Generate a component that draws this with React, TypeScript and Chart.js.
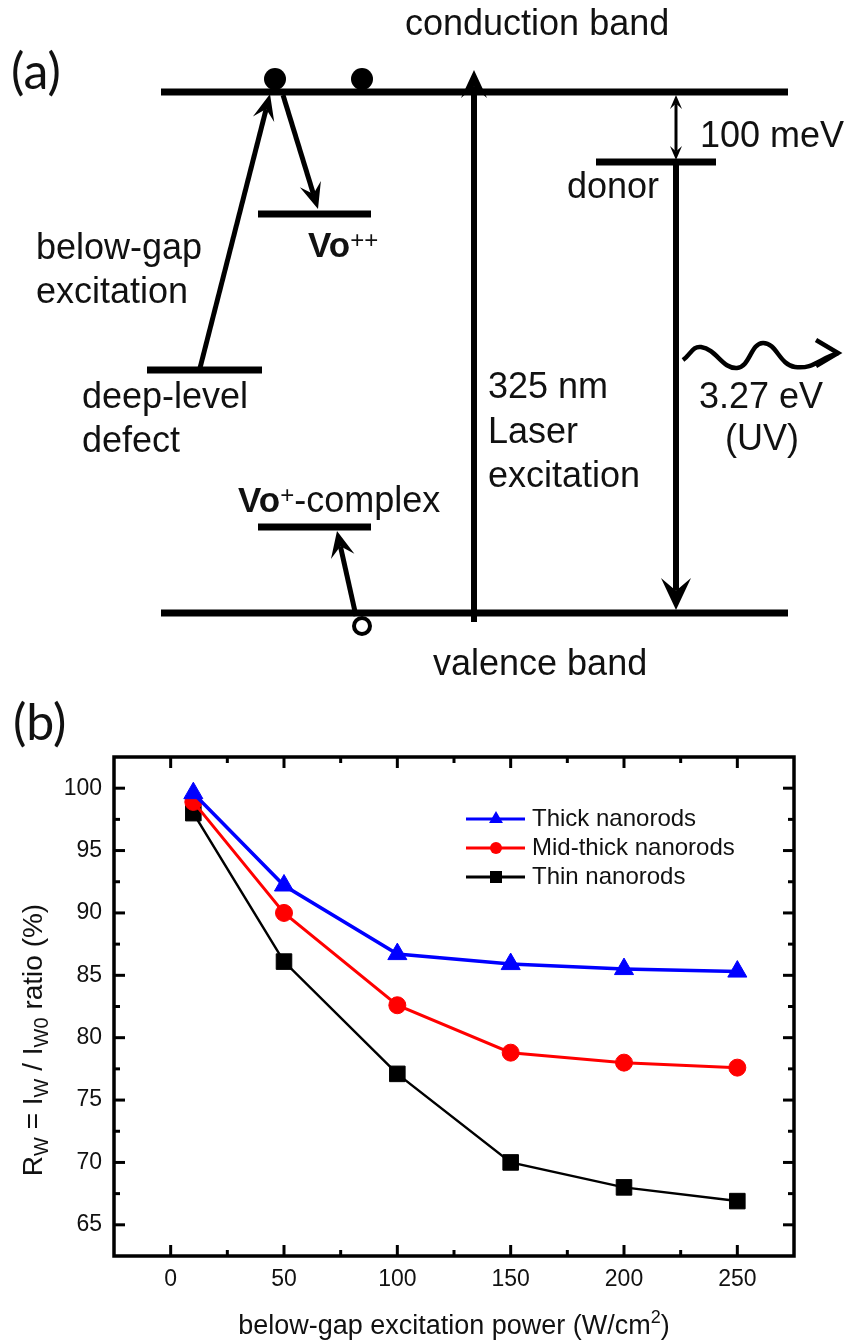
import React, { useEffect, useRef } from 'react';
import { Chart, registerables } from 'chart.js';

Chart.register(...registerables);

const FONT = '"Liberation Sans", Arial, Helvetica, sans-serif';
const PANEL_FONT = 'Lato, "Open Sans", sans-serif';

// ---------- (b) data ----------
const powers = [10, 50, 100, 150, 200, 250];
const thickValues = [99.6, 92.2, 86.7, 85.9, 85.5, 85.3];
const midThickValues = [98.9, 90.0, 82.6, 78.8, 78.0, 77.6];
const thinValues = [98.0, 86.1, 77.1, 70.0, 68.0, 66.9];
const seriesNames = ['Thick nanorods', 'Mid-thick nanorods', 'Thin nanorods'];
const xTickValues = [0, 50, 100, 150, 200, 250];
const xMinorTickValues = [25, 75, 125, 175, 225];
const yTickValues = [65, 70, 75, 80, 85, 90, 95, 100];
const yMinorTickValues = [67.5, 72.5, 77.5, 82.5, 87.5, 92.5, 97.5];

// ---------- (a) diagram geometry (diagram units) ----------
const levelNames = ['conduction band', 'valence band', 'Vo++', 'deep-level defect', 'Vo+-complex', 'donor'];
const levelY = [92, 613, 214, 370, 527, 162];
const levelX0 = [161, 161, 258, 147, 258, 596];
const levelX1 = [788, 788, 371, 262, 371, 716];

const electronX = [275, 362];
const electronY = [79, 79];
const holeX = [362];
const holeY = [626];

const arrowFromX = [200, 283, 356, 474, 676, 676, 676];
const arrowFromY = [368, 95, 616, 622, 163, 128, 128];
const arrowToX = [270, 318, 337, 474, 676, 676, 676];
const arrowToY = [94, 209, 531, 70, 610, 95, 160];
const arrowWidth = [5, 5, 5, 6, 6, 3, 3];
const arrowHeadLen = [26, 26, 26, 28, 32, 14, 14];
const arrowHeadHalf = [11, 11, 12, 13, 15, 6, 6];

const waveX = [683, 701, 737, 763, 795, 838];
const waveY = [360, 347, 368, 343, 367, 353];

const diagramTexts = ['conduction band', 'valence band', 'below-gap', 'excitation', 'deep-level', 'defect',
  '325 nm', 'Laser', 'excitation', 'donor', '100 meV', '3.27 eV', '(UV)'];
const diagramTextX = [405, 433, 36, 36, 82, 82, 488, 488, 488, 567, 700, 699, 725];
const diagramTextY = [35, 675, 259, 303, 408, 452, 398, 443, 487, 198, 147, 408, 450];

type Part = { t: string; f: string; dy: number };
function drawRich(ctx: CanvasRenderingContext2D, parts: Part[], x: number, y: number, align: 'left' | 'center') {
  let total = 0;
  const widths = parts.map(p => { ctx.font = p.f; const w = ctx.measureText(p.t).width; total += w; return w; });
  let cx = align === 'center' ? x - total / 2 : x;
  ctx.textAlign = 'left';
  ctx.textBaseline = 'alphabetic';
  parts.forEach((p, i) => { ctx.font = p.f; ctx.fillText(p.t, cx, y + p.dy); cx += widths[i]; });
}

function drawArrow(ctx: CanvasRenderingContext2D, x0: number, y0: number, x1: number, y1: number, w: number, len: number, hw: number) {
  const ang = Math.atan2(y1 - y0, x1 - x0);
  const c = Math.cos(ang), s = Math.sin(ang);
  const notch = len * 0.6;
  ctx.lineWidth = w;
  ctx.lineCap = 'butt';
  ctx.beginPath();
  ctx.moveTo(x0, y0);
  ctx.lineTo(x1 - c * notch, y1 - s * notch);
  ctx.stroke();
  const bx = x1 - c * len, by = y1 - s * len;
  ctx.beginPath();
  ctx.moveTo(x1, y1);
  ctx.lineTo(bx - s * hw, by + c * hw);
  ctx.lineTo(x1 - c * notch, y1 - s * notch);
  ctx.lineTo(bx + s * hw, by - c * hw);
  ctx.closePath();
  ctx.fill();
}

const diagramPlugin = {
  id: 'diagramPlugin',
  afterDatasetsDraw(chart: any) {
    const ctx: CanvasRenderingContext2D = chart.ctx;
    const xs = chart.scales.x, ys = chart.scales.y;
    const X = (v: number) => xs.getPixelForValue(v);
    const Y = (v: number) => ys.getPixelForValue(v);
    ctx.save();
    ctx.fillStyle = '#000';
    ctx.strokeStyle = '#000';
    for (let i = 0; i < arrowFromX.length; i++) {
      drawArrow(ctx, X(arrowFromX[i]), Y(arrowFromY[i]), X(arrowToX[i]), Y(arrowToY[i]),
        arrowWidth[i], arrowHeadLen[i], arrowHeadHalf[i]);
    }
    // open head of the wavy photon arrow
    const n = waveX.length - 1;
    const tx = X(waveX[n]), ty = Y(waveY[n]);
    ctx.lineWidth = 4.5;
    ctx.lineJoin = 'miter';
    ctx.beginPath();
    ctx.moveTo(tx - 22, ty - 13);
    ctx.lineTo(tx, ty);
    ctx.lineTo(tx - 22, ty + 13);
    ctx.stroke();

    ctx.fillStyle = '#111';
    ctx.font = `36px ${FONT}`;
    ctx.textAlign = 'left';
    ctx.textBaseline = 'alphabetic';
    diagramTexts.forEach((t, i) => ctx.fillText(t, X(diagramTextX[i]), Y(diagramTextY[i])));
    drawRich(ctx, [
      { t: 'Vo', f: `bold 35px ${FONT}`, dy: 0 },
      { t: '++', f: `24px ${FONT}`, dy: -9 },
    ], X(308), Y(257), 'left');
    drawRich(ctx, [
      { t: 'Vo', f: `bold 35px ${FONT}`, dy: 0 },
      { t: '+', f: `24px ${FONT}`, dy: -9 },
      { t: '-complex', f: `36px ${FONT}`, dy: 0 },
    ], X(238), Y(512), 'left');
    ctx.font = `50px ${PANEL_FONT}`;
    ctx.fillText('(a)', X(11), Y(89));
    ctx.restore();
  },
};

const chartBPlugin = {
  id: 'chartBPlugin',
  afterDraw(chart: any) {
    const ctx: CanvasRenderingContext2D = chart.ctx;
    const a = chart.chartArea;
    const xs = chart.scales.x, ys = chart.scales.y;
    ctx.save();
    ctx.strokeStyle = '#000';
    ctx.lineWidth = 3.5;
    ctx.strokeRect(a.left, a.top, a.right - a.left, a.bottom - a.top);
    ctx.lineWidth = 3;
    const seg = (x1: number, y1: number, x2: number, y2: number) => {
      ctx.beginPath(); ctx.moveTo(x1, y1); ctx.lineTo(x2, y2); ctx.stroke();
    };
    const xt = (vals: number[], len: number) => vals.forEach(v => {
      const p = xs.getPixelForValue(v);
      seg(p, a.bottom, p, a.bottom - len);
      seg(p, a.top, p, a.top + len);
    });
    const yt = (vals: number[], len: number) => vals.forEach(v => {
      const p = ys.getPixelForValue(v);
      seg(a.left, p, a.left + len, p);
      seg(a.right, p, a.right - len, p);
    });
    xt(xTickValues, 11); xt(xMinorTickValues, 6);
    yt(yTickValues, 11); yt(yMinorTickValues, 6);

    // legend
    const rows = [129, 158, 187];
    chart.data.datasets.forEach((ds: any, i: number) => {
      const y = rows[i];
      ctx.strokeStyle = ds.borderColor;
      ctx.fillStyle = ds.borderColor;
      ctx.lineWidth = 3;
      seg(466, y, 525, y);
      const mx = 496;
      if (ds.pointStyle === 'triangle') {
        const r = 8;
        ctx.beginPath();
        ctx.moveTo(mx, y - r);
        ctx.lineTo(mx + r * 0.866, y + r * 0.5);
        ctx.lineTo(mx - r * 0.866, y + r * 0.5);
        ctx.closePath(); ctx.fill();
      } else if (ds.pointStyle === 'circle') {
        ctx.beginPath(); ctx.arc(mx, y, 6, 0, Math.PI * 2); ctx.fill();
      } else {
        ctx.fillRect(mx - 6, y - 6, 12, 12);
      }
      ctx.fillStyle = '#111';
      ctx.font = `24px ${FONT}`;
      ctx.textAlign = 'left';
      ctx.textBaseline = 'middle';
      ctx.fillText(ds.label, 532, y);
    });

    // x title
    ctx.fillStyle = '#111';
    drawRich(ctx, [
      { t: 'below-gap excitation power (W/cm', f: `27px ${FONT}`, dy: 0 },
      { t: '2', f: `18px ${FONT}`, dy: -11 },
      { t: ')', f: `27px ${FONT}`, dy: 0 },
    ], (a.left + a.right) / 2, 644, 'center');

    // y title
    ctx.save();
    ctx.translate(42, 350);
    ctx.rotate(-Math.PI / 2);
    drawRich(ctx, [
      { t: 'R', f: `28px ${FONT}`, dy: 0 },
      { t: 'W', f: `20px ${FONT}`, dy: 6 },
      { t: ' = I', f: `28px ${FONT}`, dy: 0 },
      { t: 'W', f: `20px ${FONT}`, dy: 6 },
      { t: ' / I', f: `28px ${FONT}`, dy: 0 },
      { t: 'W0', f: `20px ${FONT}`, dy: 6 },
      { t: ' ratio (%)', f: `28px ${FONT}`, dy: 0 },
    ], 0, 0, 'center');
    ctx.restore();

    ctx.font = `50px ${PANEL_FONT}`;
    ctx.textAlign = 'left';
    ctx.textBaseline = 'alphabetic';
    ctx.fillStyle = '#111';
    ctx.fillText('(b)', 13, 50);
    ctx.restore();
  },
};

function DiagramChart() {
  const ref = useRef<HTMLCanvasElement>(null);
  useEffect(() => {
    if (!ref.current) return;
    const levelSets = levelNames.map((name, i) => ({
      label: name,
      data: [{ x: levelX0[i], y: levelY[i] }, { x: levelX1[i], y: levelY[i] }],
      borderColor: '#000',
      borderWidth: 7,
      borderCapStyle: 'butt',
      pointRadius: 0,
      clip: false,
      order: 3,
    }));
    const chart = new Chart(ref.current, {
      type: 'line',
      data: {
        datasets: [
          ...levelSets,
          {
            label: 'photon',
            data: waveX.map((x, i) => ({ x, y: waveY[i] })),
            borderColor: '#000',
            borderWidth: 4.5,
            tension: 0.45,
            pointRadius: 0,
            clip: false,
            order: 3,
          },
          {
            label: 'electrons',
            data: electronX.map((x, i) => ({ x, y: electronY[i] })),
            showLine: false,
            pointRadius: 11,
            pointBackgroundColor: '#000',
            pointBorderWidth: 0,
            clip: false,
            order: 1,
          },
          {
            label: 'hole',
            data: holeX.map((x, i) => ({ x, y: holeY[i] })),
            showLine: false,
            pointRadius: 8,
            pointBackgroundColor: '#fff',
            pointBorderColor: '#000',
            pointBorderWidth: 4,
            clip: false,
            order: 1,
          },
        ] as any,
      },
      options: {
        animation: false,
        responsive: false,
        devicePixelRatio: 1,
        events: [],
        layout: { padding: 0, autoPadding: false },
        plugins: { legend: { display: false }, tooltip: { enabled: false } },
        scales: {
          x: { type: 'linear', min: 0, max: 846, display: false },
          y: { type: 'linear', min: 0, max: 690, reverse: true, display: false },
        },
      } as any,
      plugins: [diagramPlugin],
    });
    return () => chart.destroy();
  }, []);
  return <canvas ref={ref} width={846} height={690} style={{ position: 'absolute', left: 0, top: 0 }} />;
}

function RatioChart() {
  const ref = useRef<HTMLCanvasElement>(null);
  useEffect(() => {
    if (!ref.current) return;
    const mk = (label: string, vals: number[], color: string, style: string, r: number, w: number) => ({
      label,
      data: powers.map((p, i) => ({ x: p, y: vals[i] })),
      borderColor: color,
      backgroundColor: color,
      borderWidth: w,
      pointStyle: style,
      pointRadius: r,
      pointBackgroundColor: color,
      pointBorderColor: color,
      pointBorderWidth: 1,
      tension: 0,
      clip: false,
    });
    const tickFont = { family: FONT, size: 23 };
    const chart = new Chart(ref.current, {
      type: 'line',
      data: {
        datasets: [
          mk(seriesNames[0], thickValues, '#0000ff', 'triangle', 11, 3.5),
          mk(seriesNames[1], midThickValues, '#ff0000', 'circle', 8.5, 3),
          mk(seriesNames[2], thinValues, '#000000', 'rect', 11, 2.5),
        ] as any,
      },
      options: {
        animation: false,
        responsive: false,
        devicePixelRatio: 1,
        events: [],
        layout: { padding: { left: 0, right: 52, top: 67, bottom: 0 }, autoPadding: false },
        plugins: { legend: { display: false }, tooltip: { enabled: false } },
        scales: {
          x: {
            type: 'linear', min: -25, max: 275, position: 'bottom',
            grid: { display: false, drawTicks: false },
            border: { display: false },
            ticks: { font: tickFont, color: '#111', padding: 10, maxRotation: 0 },
            afterBuildTicks: (s: any) => { s.ticks = xTickValues.map(v => ({ value: v })); },
            afterFit: (s: any) => { s.height = 88; },
          },
          y: {
            type: 'linear', min: 62.5, max: 102.5, position: 'left',
            grid: { display: false, drawTicks: false },
            border: { display: false },
            ticks: { font: tickFont, color: '#111', padding: 12 },
            afterBuildTicks: (s: any) => { s.ticks = yTickValues.map(v => ({ value: v })); },
            afterFit: (s: any) => { s.width = 114; },
          },
        },
      } as any,
      plugins: [chartBPlugin],
    });
    return () => chart.destroy();
  }, []);
  return <canvas ref={ref} width={846} height={654} style={{ position: 'absolute', left: 0, top: 690 }} />;
}

export default function App() {
  return (
    <div style={{ position: 'absolute', left: 0, top: 0, width: 846, height: 1344, background: '#fff', overflow: 'hidden' }}>
      <DiagramChart />
      <RatioChart />
    </div>
  );
}
